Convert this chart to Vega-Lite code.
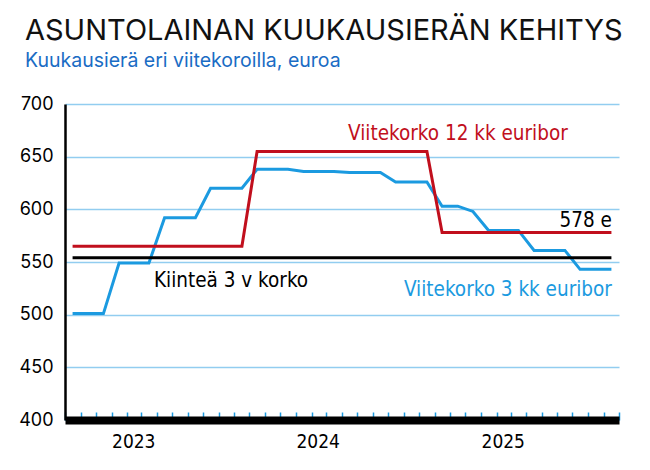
{
  "$schema": "https://vega.github.io/schema/vega-lite/v6.json",
  "width": 554,
  "height": 316,
  "autosize": {"type": "none"},
  "padding": {"left": 65, "top": 104, "right": 31, "bottom": 50},
  "background": "white",
  "title": {
    "text": "ASUNTOLAINAN KUUKAUSIERÄN KEHITYS",
    "subtitle": "Kuukausierä eri viitekoroilla, euroa",
    "anchor": "start",
    "frame": "group",
    "dx": -40,
    "offset": 25,
    "font": "Inter",
    "fontSize": 29,
    "fontWeight": "normal",
    "color": "#111111",
    "subtitleFont": "Inter",
    "subtitleFontSize": 19.5,
    "subtitleColor": "#1a6cc4",
    "subtitlePadding": 6
  },
  "datasets": {
    "series": [
      {"date": "2022-10-16", "serie": "3 kk euribor", "value": 501},
      {"date": "2022-11-16", "serie": "3 kk euribor", "value": 501},
      {"date": "2022-12-16", "serie": "3 kk euribor", "value": 501},
      {"date": "2023-01-16", "serie": "3 kk euribor", "value": 549},
      {"date": "2023-02-16", "serie": "3 kk euribor", "value": 549},
      {"date": "2023-03-16", "serie": "3 kk euribor", "value": 549},
      {"date": "2023-04-16", "serie": "3 kk euribor", "value": 592},
      {"date": "2023-05-16", "serie": "3 kk euribor", "value": 592},
      {"date": "2023-06-16", "serie": "3 kk euribor", "value": 592},
      {"date": "2023-07-16", "serie": "3 kk euribor", "value": 620},
      {"date": "2023-08-16", "serie": "3 kk euribor", "value": 620},
      {"date": "2023-09-16", "serie": "3 kk euribor", "value": 620},
      {"date": "2023-10-16", "serie": "3 kk euribor", "value": 638},
      {"date": "2023-11-16", "serie": "3 kk euribor", "value": 638},
      {"date": "2023-12-16", "serie": "3 kk euribor", "value": 638},
      {"date": "2024-01-16", "serie": "3 kk euribor", "value": 636},
      {"date": "2024-02-16", "serie": "3 kk euribor", "value": 636},
      {"date": "2024-03-16", "serie": "3 kk euribor", "value": 636},
      {"date": "2024-04-16", "serie": "3 kk euribor", "value": 635},
      {"date": "2024-05-16", "serie": "3 kk euribor", "value": 635},
      {"date": "2024-06-16", "serie": "3 kk euribor", "value": 635},
      {"date": "2024-07-16", "serie": "3 kk euribor", "value": 626},
      {"date": "2024-08-16", "serie": "3 kk euribor", "value": 626},
      {"date": "2024-09-16", "serie": "3 kk euribor", "value": 626},
      {"date": "2024-10-16", "serie": "3 kk euribor", "value": 603},
      {"date": "2024-11-16", "serie": "3 kk euribor", "value": 603},
      {"date": "2024-12-16", "serie": "3 kk euribor", "value": 598},
      {"date": "2025-01-16", "serie": "3 kk euribor", "value": 580},
      {"date": "2025-02-16", "serie": "3 kk euribor", "value": 580},
      {"date": "2025-03-16", "serie": "3 kk euribor", "value": 580},
      {"date": "2025-04-16", "serie": "3 kk euribor", "value": 561},
      {"date": "2025-05-16", "serie": "3 kk euribor", "value": 561},
      {"date": "2025-06-16", "serie": "3 kk euribor", "value": 561},
      {"date": "2025-07-16", "serie": "3 kk euribor", "value": 543},
      {"date": "2025-08-16", "serie": "3 kk euribor", "value": 543},
      {"date": "2025-09-16", "serie": "3 kk euribor", "value": 543},
      {"date": "2022-10-16", "serie": "Kiinteä 3 v", "value": 554},
      {"date": "2025-09-16", "serie": "Kiinteä 3 v", "value": 554},
      {"date": "2022-10-16", "serie": "12 kk euribor", "value": 565},
      {"date": "2023-09-16", "serie": "12 kk euribor", "value": 565},
      {"date": "2023-10-16", "serie": "12 kk euribor", "value": 655},
      {"date": "2024-09-16", "serie": "12 kk euribor", "value": 655},
      {"date": "2024-10-16", "serie": "12 kk euribor", "value": 578},
      {"date": "2025-09-16", "serie": "12 kk euribor", "value": 578}
    ],
    "labels": [
      {"label": "Viitekorko 12 kk euribor", "serie": "12 kk euribor", "date": "2024-04-13", "value": 666},
      {"label": "Kiinteä 3 v korko", "serie": "Kiinteä 3 v", "date": "2023-03-26", "value": 526.6},
      {"label": "578 e", "serie": "Kiinteä 3 v", "date": "2025-09-17", "value": 583.2},
      {"label": "Viitekorko 3 kk euribor", "serie": "3 kk euribor", "date": "2025-09-17", "value": 517.7}
    ]
  },
  "encoding": {
    "x": {
      "field": "date",
      "type": "temporal",
      "title": null,
      "scale": {"domain": [{"year": 2022, "month": 10, "date": 1}, {"year": 2025, "month": 10, "date": 1}]},
      "axis": {
        "tickCount": {"interval": "month", "step": 1},
        "labelExpr": "month(datum.value) == 0 ? timeFormat(datum.value, '%Y') : ''",
        "labelOverlap": false,
        "labelFlush": false,
        "labelBound": false,
        "labelAlign": "left",
        "labelFont": "DejaVu Sans Condensed",
        "labelFontSize": 19,
        "labelColor": "#000000",
        "labelPadding": 20,
        "grid": false,
        "domainColor": "#000000",
        "domainWidth": 8,
        "tickColor": "#1b9ae0",
        "tickWidth": 1.5,
        "tickSize": -8
      }
    },
    "y": {
      "field": "value",
      "type": "quantitative",
      "title": null,
      "scale": {"domain": [400, 700], "nice": false, "zero": false},
      "axis": {
        "values": [400, 450, 500, 550, 600, 650, 700],
        "ticks": false,
        "labelFont": "Inter",
        "labelFontSize": 18,
        "labelColor": "#000000",
        "labelPadding": 12,
        "domainColor": "#000000",
        "domainWidth": 2.5,
        "gridColor": "#92cdf0",
        "gridWidth": 1.5
      }
    }
  },
  "layer": [
    {
      "data": {"name": "series"},
      "mark": {"type": "line", "strokeWidth": 3, "clip": false},
      "encoding": {
        "color": {
          "field": "serie",
          "type": "nominal",
          "legend": null,
          "scale": {"domain": ["3 kk euribor", "Kiinteä 3 v", "12 kk euribor"], "range": ["#1b9ae0", "#000000", "#c10f1d"]}
        }
      }
    },
    {
      "data": {"name": "labels"},
      "transform": [{"filter": {"field": "label", "oneOf": ["Viitekorko 12 kk euribor", "Kiinteä 3 v korko"]}}],
      "mark": {"type": "text", "align": "left", "baseline": "alphabetic", "font": "DejaVu Sans Condensed", "fontSize": 20.5},
      "encoding": {
        "text": {"field": "label"},
        "color": {"field": "serie", "type": "nominal", "legend": null}
      }
    },
    {
      "data": {"name": "labels"},
      "transform": [{"filter": {"field": "label", "oneOf": ["578 e", "Viitekorko 3 kk euribor"]}}],
      "mark": {"type": "text", "align": "right", "baseline": "alphabetic", "font": "DejaVu Sans Condensed", "fontSize": 20.5},
      "encoding": {
        "text": {"field": "label"},
        "color": {"field": "serie", "type": "nominal", "legend": null}
      }
    }
  ],
  "config": {
    "view": {"stroke": null}
  }
}
